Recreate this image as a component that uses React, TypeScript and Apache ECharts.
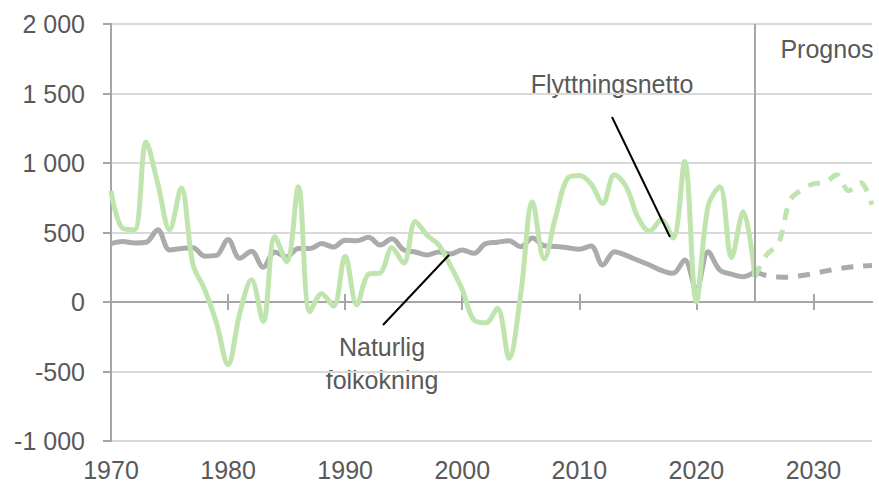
import React, { useEffect, useRef } from "react";
import * as echarts from "echarts";

const histYears = [
  1970, 1971, 1972, 1973, 1974, 1975, 1976, 1977, 1978, 1979,
  1980, 1981, 1982, 1983, 1984, 1985, 1986, 1987, 1988, 1989,
  1990, 1991, 1992, 1993, 1994, 1995, 1996, 1997, 1998, 1999,
  2000, 2001, 2002, 2003, 2004, 2005, 2006, 2007, 2008, 2009,
  2010, 2011, 2012, 2013, 2014, 2015, 2016, 2017, 2018, 2019,
  2020, 2021, 2022, 2023, 2024, 2025,
];

const migrationHist = [
  800, 530, 520, 1150, 850, 520, 820, 270, 90, -150,
  -450, -80, 160, -140, 470, 290, 830, -70, 60, -30,
  330, -20, 200, 210, 390, 280, 580, 480, 410, 260,
  90, -130, -150, -45, -405, 60, 720, 310, 620, 890,
  910, 850, 710, 915, 830, 610, 510, 590, 460, 1010,
  0, 690, 830, 320, 650, 180,
];

const naturalHist = [
  420, 435, 425, 430, 520, 375, 385, 390, 330, 335,
  450, 315, 365, 250, 360, 325, 385, 385, 420, 395,
  445, 440, 465, 410, 455, 375, 360, 338, 360, 345,
  375, 350, 420, 430, 440, 398, 460, 405, 400, 390,
  380, 403, 266, 362, 335, 300, 266, 228, 206, 302,
  90, 362, 230, 200, 182, 218,
];

const forecastYears = [2025, 2026, 2027, 2028, 2029, 2030, 2031, 2032, 2033, 2034, 2035];
const migrationForecast = [180, 340, 420, 730, 810, 850, 860, 915, 800, 860, 700];
const naturalForecast = [218, 190, 180, 178, 190, 205, 222, 238, 250, 258, 262];

const xTickValues = [1980, 1990, 2000, 2010, 2020, 2030];
const xLabelValues = [1970, 1980, 1990, 2000, 2010, 2020, 2030];

const seriesLabels = {
  migration: "Flyttningsnetto",
  naturalLine1: "Naturlig",
  naturalLine2: "folkökning",
  forecast: "Prognos",
};

const GREEN = "#bfe4ae";
const GRAY = "#ababab";
const AXIS = "#a6a6a6";
const TEXT = "#595959";
const FONT = "'Liberation Sans', Arial, sans-serif";
const FS = 25;

function pairs(xs: number[], ys: number[]) {
  return xs.map((x, i) => [x, ys[i]]);
}

function fmt(v: number) {
  const a = Math.abs(v);
  const s = v < 0 ? "-" : "";
  if (a >= 1000) {
    const th = Math.floor(a / 1000);
    const rest = String(a % 1000).padStart(3, "0");
    return s + th + " " + rest;
  }
  return s + a;
}

export default function App() {
  const ref = useRef<HTMLDivElement>(null);
  useEffect(() => {
    const chart = echarts.init(ref.current!, null, { renderer: "svg" });
    const option: any = {
      animation: false,
      backgroundColor: "#ffffff",
      grid: { left: 111, right: 7, top: 24, bottom: 48, containLabel: false, outerBoundsMode: "none" },
      xAxis: [
        {
          type: "value",
          min: 1970,
          max: 2035,
          interval: 10,
          position: "bottom",
          axisLine: { show: true, onZero: true, onZeroAxisIndex: 0, lineStyle: { color: AXIS, width: 2 } },
          axisTick: { show: true, length: 8, customValues: xTickValues, lineStyle: { color: AXIS, width: 2 } },
          axisLabel: {
            show: true,
            customValues: xLabelValues,
            margin: 16,
            color: TEXT,
            fontSize: FS,
            fontFamily: FONT,
            formatter: (v: number) => String(v),
          },
          splitLine: { show: false },
        },
        {
          type: "value",
          min: 1970,
          max: 2035,
          interval: 10,
          position: "top",
          axisLine: { show: true, onZero: true, onZeroAxisIndex: 0, lineStyle: { color: AXIS, width: 2 } },
          axisTick: { show: true, length: 8, customValues: xTickValues, lineStyle: { color: AXIS, width: 2 } },
          axisLabel: { show: false },
          splitLine: { show: false },
        },
      ],
      yAxis: {
        type: "value",
        min: -1000,
        max: 2000,
        interval: 500,
        axisLine: { show: true, onZero: false, lineStyle: { color: AXIS, width: 2 } },
        axisTick: { show: true, length: 8, lineStyle: { color: AXIS, width: 2 } },
        axisLabel: { color: TEXT, fontSize: FS, fontFamily: FONT, margin: 26, formatter: fmt },
        splitLine: { show: true, lineStyle: { color: "#d9d9d9", width: 2 } },
      },
      series: [
        {
          name: "naturalHist",
          type: "line",
          data: pairs(histYears, naturalHist),
          smooth: 0.35,
          showSymbol: false,
          lineStyle: { color: GRAY, width: 5 },
          z: 2,
        },
        {
          name: "naturalForecast",
          type: "line",
          data: pairs(forecastYears, naturalForecast),
          smooth: 0.35,
          showSymbol: false,
          lineStyle: { color: GRAY, width: 5, type: [12, 10] },
          z: 2,
        },
        {
          name: "migrationHist",
          type: "line",
          data: pairs(histYears, migrationHist),
          smooth: 0.35,
          showSymbol: false,
          lineStyle: { color: GREEN, width: 5 },
          z: 3,
          markLine: {
            silent: true,
            symbol: "none",
            label: { show: false },
            lineStyle: { color: AXIS, width: 2, type: "solid" },
            data: [[{ coord: [2025, 2000] }, { coord: [2025, 0] }]],
          },
        },
        {
          name: "migrationForecast",
          type: "line",
          data: pairs(forecastYears, migrationForecast),
          smooth: 0.35,
          showSymbol: false,
          lineStyle: { color: GREEN, width: 5, type: [12, 10] },
          z: 3,
        },
      ],
      graphic: [
        {
          type: "text",
          x: 827,
          y: 49,
          style: { text: seriesLabels.forecast, fill: TEXT, font: `${FS}px ${FONT}`, textAlign: "center", textVerticalAlign: "middle" },
        },
        {
          type: "text",
          x: 612,
          y: 84,
          style: { text: seriesLabels.migration, fill: TEXT, font: `${FS}px ${FONT}`, textAlign: "center", textVerticalAlign: "middle" },
        },
        {
          type: "text",
          x: 382,
          y: 347,
          style: { text: seriesLabels.naturalLine1, fill: TEXT, font: `${FS}px ${FONT}`, textAlign: "center", textVerticalAlign: "middle" },
        },
        {
          type: "text",
          x: 382,
          y: 380,
          style: { text: seriesLabels.naturalLine2, fill: TEXT, font: `${FS}px ${FONT}`, textAlign: "center", textVerticalAlign: "middle" },
        },
        {
          type: "line",
          shape: { x1: 612, y1: 117, x2: 670, y2: 237 },
          style: { stroke: "#000000", lineWidth: 2 },
          z: 10,
        },
        {
          type: "line",
          shape: { x1: 383, y1: 325, x2: 449, y2: 255 },
          style: { stroke: "#000000", lineWidth: 2 },
          z: 10,
        },
      ],
    };
    chart.setOption(option);
    return () => chart.dispose();
  }, []);
  return <div ref={ref} style={{ position: "fixed", left: 0, top: 0, width: 879, height: 489 }} />;
}
